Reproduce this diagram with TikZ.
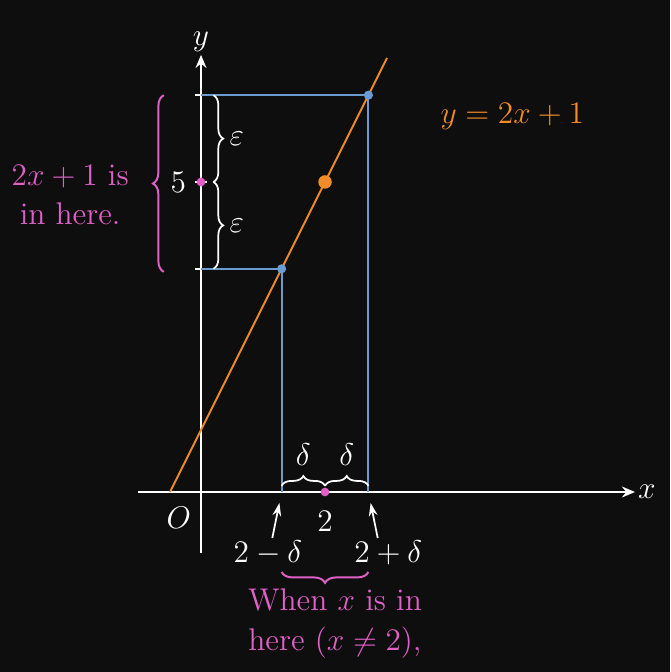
\documentclass[tikz,border=0pt]{standalone}
\usepackage{xcolor}
\usepackage{tikz}
\usetikzlibrary{arrows.meta, positioning, calc, decorations.pathreplacing}

\definecolor{bgdark}{HTML}{0E0E0E}
\definecolor{guideblue}{HTML}{6A9BD1}
\definecolor{lineorange}{HTML}{F28C28}
\definecolor{hlpink}{HTML}{E060C8}

\begin{document}
\begin{tikzpicture}[
  axis/.style={draw=white, line width=0.9pt, -{Stealth[length=6pt, width=5pt]}},
  guide/.style={draw=guideblue, line width=0.9pt},
  tick/.style={draw=white, line width=0.9pt},
  wbrace/.style={decorate, decoration={brace, amplitude=4.5pt}, draw=white, line width=0.8pt},
  pbrace/.style={decorate, decoration={brace, amplitude=5pt}, draw=hlpink, line width=0.9pt},
  ptr/.style={draw=white, line width=0.8pt, -{Stealth[length=6pt, width=4pt]}},
  lbl/.style={text=white, font=\Large, inner sep=1pt},
  pinktext/.style={text=hlpink, font=\Large, align=center},
  dot/.style={circle, inner sep=0pt, minimum size=#1}
]
  % background and frame
  \fill[bgdark] (-3.242,-2.903) rectangle (7.565,7.935);
  \useasboundingbox (-3.242,-2.903) rectangle (7.565,7.935);

  \coordinate (O) at (0,0);
  \coordinate (ylo) at (0,3.6);
  \coordinate (ymid) at (0,5);
  \coordinate (yhi) at (0,6.4);
  \coordinate (xlo) at (1.3,0);
  \coordinate (xmid) at (2,0);
  \coordinate (xhi) at (2.7,0);
  \coordinate (plo) at (1.3,3.6);
  \coordinate (pmid) at (2,5);
  \coordinate (phi) at (2.7,6.4);

  % axes
  \draw[axis] (-1.02,0) -- (7.0,0) node[right, lbl] (xlab) {$x$};
  \draw[axis] (0,-0.98) -- (0,7.05) node[above, lbl] (ylab) {$y$};
  \node[lbl, below left=0.2cm and 0.12cm of O] (orig) {$O$};

  % ticks on the y axis
  \foreach \t in {ylo, ymid, yhi}
    \draw[tick] ($(\t)+(-0.1,0)$) -- ($(\t)+(0.1,0)$);

  % delta/epsilon box
  \draw[guide] (yhi) -- (phi) -- (xhi);
  \draw[guide] (ylo) -- (plo) -- (xlo);

  % the line
  \draw[lineorange, line width=0.9pt] (-0.5,0) -- (3.0,7.0);
  \node[text=lineorange, font=\Large] (eqn) at (5.02,6.05) {$y=2x+1$};

  % points
  \node[dot=4.2pt, fill=guideblue] (lopt) at (plo) {};
  \node[dot=4.2pt, fill=guideblue] (hipt) at (phi) {};
  \node[dot=6.2pt, fill=lineorange] (midpt) at (pmid) {};
  \node[dot=4pt, fill=hlpink] (ypt) at (ymid) {};
  \node[dot=4pt, fill=hlpink] (xpt) at (xmid) {};

  \node[lbl, left=0.2cm of ymid] (five) {$5$};
  \node[lbl, below=0.27cm of xmid] (two) {$2$};

  % epsilon braces
  \draw[wbrace] ($(yhi)+(0.2,0)$) -- ($(ymid)+(0.2,0)$)
    node[midway, right=6pt, lbl] (epsup) {$\varepsilon$};
  \draw[wbrace] ($(ymid)+(0.2,0)$) -- ($(ylo)+(0.2,0)$)
    node[midway, right=6pt, lbl] (epsdn) {$\varepsilon$};

  % delta braces
  \draw[wbrace] ($(xlo)+(0,0.1)$) -- ($(xmid)+(0,0.1)$)
    node[midway, above=8pt, lbl] (dleft) {$\delta$};
  \draw[wbrace] ($(xmid)+(0,0.1)$) -- ($(xhi)+(0,0.1)$)
    node[midway, above=8pt, lbl] (dright) {$\delta$};

  % range of 2x+1
  \draw[pbrace] (-0.6,3.55) -- (-0.6,6.4);
  \node[pinktext] (range) at (-2.11,4.79) {$2x+1$ is\\in here.};

  % endpoints on the x axis
  \node[lbl] (xminus) at (1.08,-0.98) {$2-\delta$};
  \node[lbl] (xplus) at (3.02,-0.98) {$2+\delta$};
  \draw[ptr, shorten >=0.18cm] ($(xminus.north)+(0.07,0)$) -- (xlo);
  \draw[ptr, shorten >=0.18cm] ($(xplus.north)+(-0.17,0)$) -- (xhi);

  % domain
  \draw[pbrace] (2.7,-1.29) -- (1.3,-1.29);
  \node[pinktext] (domain) at (2.16,-2.12) {When $x$ is in\\here $(x\neq 2)$,};
\end{tikzpicture}
\end{document}
